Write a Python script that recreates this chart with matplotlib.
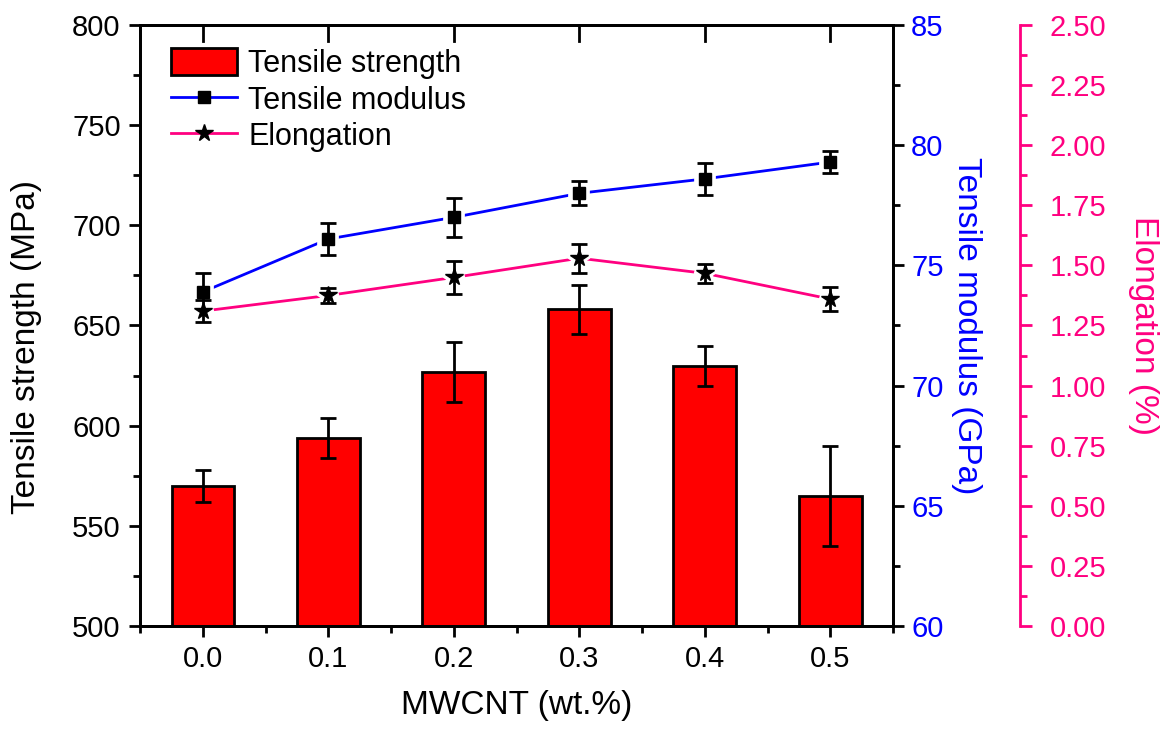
import matplotlib
matplotlib.use("Agg")
import matplotlib.pyplot as plt
from matplotlib.ticker import MultipleLocator, FixedLocator

plt.rcParams['font.family'] = ['Liberation Sans', 'DejaVu Sans']

# data
mwcnt = [0.0, 0.1, 0.2, 0.3, 0.4, 0.5]
strength = [570, 594, 627, 658, 630, 565]
strength_err = [8, 10, 15, 12, 10, 25]
modulus = [73.9, 76.1, 77.0, 78.0, 78.6, 79.3]
modulus_err = [0.8, 0.67, 0.8, 0.5, 0.67, 0.45]
elongation = [1.31, 1.375, 1.45, 1.53, 1.467, 1.36]
elongation_err = [0.046, 0.03, 0.07, 0.06, 0.04, 0.05]

BLUE = '#0000FF'
PINK = '#FF0080'
FS = 21      # tick labels
LFS = 24     # axis labels

fig = plt.figure(figsize=(11.68, 7.29), dpi=100)
ax = fig.add_axes([0.12, 0.1413, 0.6446, 0.8244])

# bars
bars = ax.bar(mwcnt, strength, width=0.05, color='#FF0000', edgecolor='black',
              linewidth=2, label='Tensile strength', zorder=2)
ax.errorbar(mwcnt, strength, yerr=strength_err, fmt='none', ecolor='black',
            elinewidth=2, capsize=6, capthick=2, zorder=3)

ax.set_xlim(-0.05, 0.55)
ax.set_ylim(500, 800)
ax.set_xticks(mwcnt)
ax.set_xticklabels([f'{v:.1f}' for v in mwcnt])
ax.xaxis.set_minor_locator(FixedLocator([0.05, 0.15, 0.25, 0.35, 0.45, -0.05, 0.55]))
ax.yaxis.set_major_locator(MultipleLocator(50))
ax.yaxis.set_minor_locator(MultipleLocator(25))
ax.tick_params(axis='both', which='major', direction='out', length=8, width=2,
               labelsize=FS, pad=6)
ax.tick_params(axis='both', which='minor', direction='out', length=5, width=2)
ax.tick_params(axis='x', which='both', top=False)
for sp in ax.spines.values():
    sp.set_linewidth(2)
ax.set_xlabel('MWCNT (wt.%)', fontsize=LFS, labelpad=12)
ax.set_ylabel('Tensile strength (MPa)', fontsize=LFS)
ax.yaxis.set_label_coords(-0.13, 0.464)

# top inward ticks at categories
for x in mwcnt:
    ax.plot([x, x], [800, 792], color='black', lw=2, clip_on=False, zorder=5)

# modulus axis
ax2 = ax.twinx()
ax2.set_ylim(60, 85)
ax2.yaxis.set_major_locator(MultipleLocator(5))
ax2.yaxis.set_minor_locator(MultipleLocator(2.5))
ax2.tick_params(axis='y', which='major', direction='out', length=8, width=2,
                labelsize=FS, labelcolor=BLUE, pad=5)
ax2.tick_params(axis='y', which='minor', direction='out', length=5, width=2)
for sp in ax2.spines.values():
    sp.set_linewidth(2)
ax2.set_ylabel('Tensile modulus (GPa)', fontsize=LFS, color=BLUE, rotation=270,
               labelpad=28)
ax2.plot(mwcnt, modulus, color=BLUE, lw=2, zorder=2, label='Tensile modulus',
         marker='s', markersize=9, markerfacecolor='black', markeredgecolor='black')
ax2.plot(mwcnt, modulus, 's', markersize=9, markerfacecolor='white',
         markeredgecolor='white', markeredgewidth=7, zorder=3)
ax2.errorbar(mwcnt, modulus, yerr=modulus_err, fmt='none', ecolor='black',
             elinewidth=2, capsize=6, capthick=2, zorder=4)
ax2.plot(mwcnt, modulus, 's', color='black', markersize=9, zorder=5)

# elongation axis
ax3 = ax.twinx()
ax3.spines['right'].set_position(('axes', 1 + 127 / 753))
ax3.spines['right'].set_color(PINK)
ax3.spines['right'].set_linewidth(2)
ax3.set_ylim(0, 2.5)
ax3.yaxis.set_major_locator(MultipleLocator(0.25))
ax3.yaxis.set_minor_locator(MultipleLocator(0.125))
ax3.yaxis.set_major_formatter(matplotlib.ticker.FormatStrFormatter('%.2f'))
ax3.tick_params(axis='y', which='major', direction='out', length=8.5, width=2,
                color=PINK, labelsize=FS, labelcolor=PINK, pad=13)
ax3.tick_params(axis='y', which='minor', direction='out', length=5, width=2,
                color=PINK)
ax3.set_ylabel('Elongation (%)', fontsize=LFS, color=PINK, rotation=270, labelpad=38)
ax3.plot(mwcnt, elongation, color=PINK, lw=2, zorder=2, label='Elongation',
         marker='*', markersize=13, markerfacecolor='black', markeredgecolor='black')
ax3.plot(mwcnt, elongation, '*', markersize=13, markerfacecolor='white',
         markeredgecolor='white', markeredgewidth=6, zorder=3)
ax3.errorbar(mwcnt, elongation, yerr=elongation_err, fmt='none', ecolor='black',
             elinewidth=2, capsize=6, capthick=2, zorder=4)
ax3.plot(mwcnt, elongation, '*', color='black', markersize=13, zorder=5)

# legend
handles = [bars, ax2.lines[0], ax3.lines[0]]
leg = ax3.legend(handles, [h.get_label() for h in handles], loc='upper left',
                 bbox_to_anchor=(0.011, 1.0), frameon=False, fontsize=22,
                 handlelength=2.15, handleheight=1.0, handletextpad=0.36,
                 labelspacing=0.18, borderaxespad=0.25, borderpad=0.5)

fig.savefig('out.png', dpi=100)
